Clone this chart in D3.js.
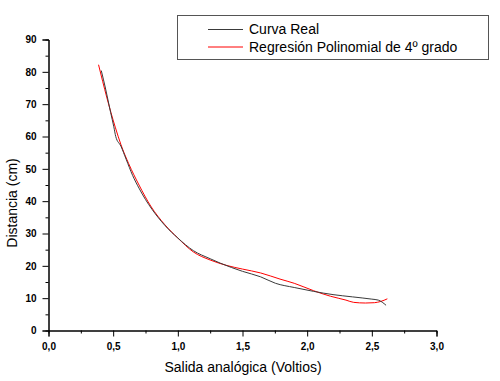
<!DOCTYPE html>
<html><head><meta charset="utf-8">
<script src="https://cdn.jsdelivr.net/npm/d3@7"></script>
<style>body{margin:0;background:#fff}svg{display:block}</style>
</head><body>
<svg id="c" width="500" height="381"></svg>
<script>
const realV = [0.408,0.44,0.48,0.505,0.52,0.56,0.6,0.65,0.7,0.75,0.8,0.9,1.0,1.12,1.25,1.33,1.5,1.64,1.755,1.9,2.05,2.2,2.35,2.5,2.55,2.61];
const realD = [80.4,75,67.5,63,60,57,53,48,44,40.5,37.5,32.5,28.6,24.7,22.2,20.8,18.3,16.6,14.6,13.3,12.1,11.1,10.4,9.7,9.4,7.8];
const fitV = [0.387,0.45,0.516,0.56,0.62,0.7,0.79,0.9,1.0,1.12,1.25,1.38,1.5,1.64,1.79,1.9,2.05,2.18,2.3,2.36,2.45,2.52,2.57,2.62];
const fitD = [82.2,72.2,62.9,57.5,51.6,45,38.5,32.7,28.6,24.3,21.8,20.1,19.0,17.8,15.9,14.6,12.3,10.6,9.4,8.7,8.5,8.6,9.0,9.8];
const xTicks = [0,0.5,1,1.5,2,2.5,3];
const yTicks = [0,10,20,30,40,50,60,70,80,90];
const seriesNames = ["Curva Real","Regresión Polinomial de 4º grado"];

const svg = d3.select("#c");
const x = d3.scaleLinear().domain([0,3]).range([48.5,436.5]);
const y = d3.scaleLinear().domain([0,90]).range([330.5,39.5]);
const font = "Arial, 'Liberation Sans', sans-serif";

// minor ticks
svg.append("g").attr("transform","translate(0,330.5)")
  .call(d3.axisBottom(x).tickValues(d3.range(0.25,3,0.5)).tickSize(3).tickFormat(""));
svg.append("g").attr("transform","translate(48.5,0)")
  .call(d3.axisLeft(y).tickValues(d3.range(5,90,10)).tickSize(3).tickFormat(""));
// major
svg.append("g").attr("transform","translate(0,330.5)")
  .call(d3.axisBottom(x).tickValues(xTicks).tickSize(6).tickPadding(6).tickFormat(d=>d.toFixed(1).replace(".",",")));
svg.append("g").attr("transform","translate(48.5,0)")
  .call(d3.axisLeft(y).tickValues(yTicks).tickSize(6).tickPadding(6));
svg.selectAll(".domain").attr("stroke","#000");
svg.selectAll(".tick line").attr("stroke","#000");
svg.selectAll(".tick text").attr("font-family",font).attr("font-size","10px").attr("font-weight","bold").attr("fill","#000");

const line = d3.line().x(d=>x(d[0])).y(d=>y(d[1])).curve(d3.curveMonotoneX);
svg.append("path").datum(fitV.map((v,i)=>[v,fitD[i]])).attr("d",line)
  .attr("fill","none").attr("stroke","#ff0000").attr("stroke-width",1);
svg.append("path").datum(realV.map((v,i)=>[v,realD[i]])).attr("d",line)
  .attr("fill","none").attr("stroke","#3a3a3a").attr("stroke-width",1);

// axis titles
svg.append("text").attr("x",243).attr("y",372).attr("text-anchor","middle")
  .attr("font-family",font).attr("font-size","14px").attr("fill","#000").text("Salida analógica (Voltios)");
svg.append("text").attr("transform","translate(17,203) rotate(-90)").attr("text-anchor","middle")
  .attr("font-family",font).attr("font-size","14px").attr("fill","#000").text("Distancia (cm)");

// legend
const lg = svg.append("g");
lg.append("rect").attr("x",177.5).attr("y",15.5).attr("width",311).attr("height",44)
  .attr("fill","#fff").attr("stroke","#555").attr("stroke-width",1);
const colors = ["#3a3a3a","#ff0000"];
seriesNames.forEach((n,i)=>{
  const yy = 29.5 + i*17.5;
  lg.append("line").attr("x1",208).attr("x2",243).attr("y1",yy).attr("y2",yy).attr("stroke",colors[i]).attr("stroke-width",1);
  lg.append("text").attr("x",249).attr("y",yy+4.8).attr("font-family",font).attr("font-size","14px").attr("fill","#000").text(n);
});
</script>
</body></html>
